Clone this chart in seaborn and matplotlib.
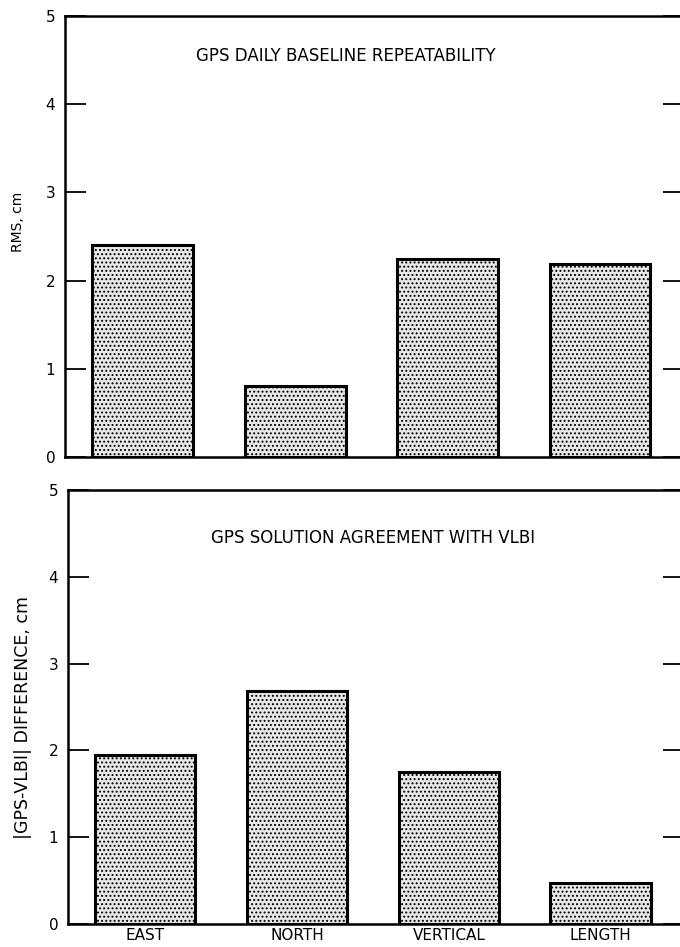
import matplotlib
matplotlib.use("Agg")
import matplotlib.pyplot as plt
import seaborn as sns
import pandas as pd

categories = ["EAST", "NORTH", "VERTICAL", "LENGTH"]
rms_values = [2.40, 0.80, 2.25, 2.19]
diff_values = [1.95, 2.69, 1.75, 0.47]
yticks = [0, 1, 2, 3, 4, 5]

sns.set_theme(style="white")
plt.rcParams["font.family"] = ["DejaVu Sans"]
plt.rcParams["hatch.linewidth"] = 0.9
plt.rcParams["hatch.color"] = "#333333"
for k in ["text.color", "axes.labelcolor", "xtick.color", "ytick.color"]:
    plt.rcParams[k] = "black"

fig = plt.figure(figsize=(6.8, 9.47), dpi=100)
W, H = 680.0, 947.0

def make_ax(left_px, bottom_px, top_px):
    return fig.add_axes([left_px / W, (H - bottom_px) / H,
                         (684 - left_px) / W, (bottom_px - top_px) / H])

ax1 = make_ax(65, 457, 16)
ax2 = make_ax(68, 924, 490)

panels = [
    (ax1, rms_values, "RMS, cm", 10, "GPS DAILY BASELINE REPEATABILITY", 1.33, 4.55, False),
    (ax2, diff_values, "|GPS-VLBI| DIFFERENCE, cm", 12.5, "GPS SOLUTION AGREEMENT WITH VLBI", 1.50, 4.45, True),
]

for ax, vals, ylab, yfs, title, tx, ty, show_x in panels:
    df = pd.DataFrame({"cat": categories, "val": vals})
    sns.barplot(data=df, x="cat", y="val", ax=ax, width=0.66,
                color="#e8e8e8", edgecolor="black", linewidth=2.2,
                saturation=1)
    for p in ax.patches:
        p.set_hatch("....")
    ax.set_ylim(0, 5)
    ax.set_xlim(-0.51, 3.55)
    ax.set_yticks(yticks)
    ax.set_yticklabels([str(t) for t in yticks], fontsize=11)
    ax.tick_params(axis="y", which="both", direction="in", length=15,
                   width=1.3, left=True, right=True, labelleft=True,
                   labelright=False, pad=7)
    ax.tick_params(axis="x", length=0, pad=3, labelsize=11)
    for s in ["left", "top", "bottom"]:
        ax.spines[s].set_visible(True)
        ax.spines[s].set_color("black")
        ax.spines[s].set_linewidth(1.8)
    ax.spines["right"].set_visible(False)
    ax.set_ylabel(ylab, fontsize=yfs)
    ax.set_xlabel("")
    if not show_x:
        ax.set_xticklabels([])
    ax.text(tx, ty, title, ha="center", va="center", fontsize=12)

ax1.yaxis.set_label_coords(-0.064, 0.533)
ax2.yaxis.set_label_coords(-0.058, 0.475)

fig.savefig("out.png", dpi=100)
